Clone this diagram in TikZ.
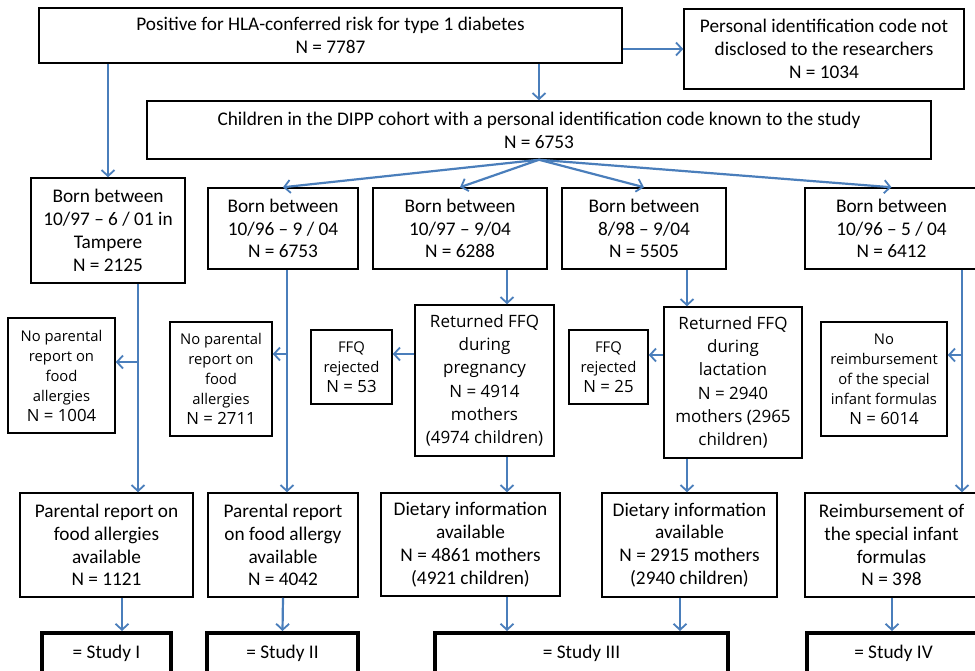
\documentclass[tikz,border=0pt]{standalone}
\usepackage{fontspec}
\setmainfont{Carlito}
\newfontfamily\widefont{Open Sans}
\usetikzlibrary{arrows.meta}
\definecolor{lineblue}{RGB}{74,126,187}
\newcommand\bigline[1]{{\fontsize{16.8}{21}\selectfont #1}}
\begin{document}
\begin{tikzpicture}
   [x=1pt, y=-1pt,
    box/.style={draw, line width=1.5pt, align=center, inner sep=0pt, font=\fontsize{19.3}{22.8}\selectfont},
    widebox/.style={box, font=\widefont\fontsize{17}{23.3}\selectfont},
    smallbox/.style={box, font=\widefont\fontsize{14.8}{20}\selectfont},
    studybox/.style={draw, line width=4pt, align=center, inner sep=0pt, font=\fontsize{19.3}{22}\selectfont},
    arr/.style={draw=lineblue, line width=2.2pt, -{Straight Barb[length=6pt,width=13pt,line width=1.8pt]}},
    arrlite/.style={arr, line width=1.4pt}]
   \fill[white] (0,0) rectangle (975,670);
   \useasboundingbox (0,0) rectangle (975,670);

   % top rows
   \node[box, minimum width=583, minimum height=55] (risk) at (330.5,35.5) {Positive for HLA-conferred risk for type 1 diabetes\\N = 7787};
   \node[box, minimum width=280, minimum height=80] (nocode) at (824,49) {Personal identification code not\\disclosed to the researchers\\N = 1034};
   \node[box, minimum width=784, minimum height=58] (dipp) at (539,130) {Children in the DIPP cohort with a personal identification code known to the study\\N = 6753};

   \node[box, minimum width=154, minimum height=105] (tampere) at (108,230.5) {Born between\\10/97 – 6 / 01 in\\Tampere\\N = 2125};
   \node[box, minimum width=150, minimum height=81] (bornA) at (283,228.5) {Born between\\10/96 – 9 / 04\\N = 6753};
   \node[box, minimum width=174, minimum height=81] (bornB) at (460,228.5) {Born between\\10/97 – 9/04\\N = 6288};
   \node[box, minimum width=164, minimum height=81] (bornC) at (644,228.5) {Born between\\8/98 – 9/04\\N = 5505};
   \node[box, minimum width=173, minimum height=81] (bornD) at (891.5,228.5) {Born between\\10/96 – 5 / 04\\N = 6412};

   % middle row
   \node[smallbox, minimum width=107, minimum height=115] (nop1) at (61.5,375.5) {No parental\\report on\\food\\allergies\\\bigline{N = 1004}};
   \node[smallbox, minimum width=102, minimum height=114] (nop2) at (221,379) {No parental\\report on\\food\\allergies\\\bigline{N = 2711}};
   \node[smallbox, minimum width=81, minimum height=74] (rej1) at (351.5,367) {FFQ\\rejected\\\bigline{N = 53}};
   \node[widebox, minimum width=139, minimum height=151] (preg) at (484.5,380.5) {Returned FFQ\\during\\pregnancy\\N = 4914\\mothers\\(4974 children)};
   \node[smallbox, minimum width=79, minimum height=74] (rej2) at (608.5,367) {FFQ\\rejected\\\bigline{N = 25}};
   \node[widebox, minimum width=138, minimum height=151] (lact) at (733,382.5) {Returned FFQ\\during\\lactation\\N = 2940\\mothers (2965\\children)};
   \node[smallbox, minimum width=126, minimum height=114] (noreim) at (884,379) {No\\reimbursement\\of the special\\infant formulas\\\bigline{N = 6014}};

   % bottom rows
   \node[box, minimum width=173, minimum height=104] (par1) at (106.5,545) {Parental report on\\food allergies\\available\\N = 1121};
   \node[box, minimum width=150, minimum height=104] (par2) at (283,545) {Parental report\\on food allergy\\available\\N = 4042};
   \node[box, minimum width=179, minimum height=103] (diet1) at (470.5,544.5) {Dietary information\\available\\N = 4861 mothers\\(4921 children)};
   \node[box, minimum width=175, minimum height=104] (diet2) at (689.5,545) {Dietary information\\available\\N = 2915 mothers\\(2940 children)};
   \node[box, minimum width=173, minimum height=104] (reim) at (891.5,545) {Reimbursement of\\the special infant\\formulas\\N = 398};

   \node[studybox, minimum width=129, minimum height=40] (st1) at (106.5,653) {= Study I};
   \node[studybox, minimum width=151, minimum height=40] (st2) at (282.5,653) {= Study II};
   \node[studybox, minimum width=293, minimum height=40] (st3) at (581.5,653) {= Study III};
   \node[studybox, minimum width=173, minimum height=40] (st4) at (893.5,653) {= Study IV};

   % trunk and branch points
   \coordinate (tr1) at (138,362);
   \coordinate (tr2) at (287,354);
   \coordinate (tr3) at (507,354);
   \coordinate (tr4) at (687,355);
   \coordinate (tr5) at (962,355);
   \coordinate (s1) at (122,0);
   \coordinate (s3) at (507,0);
   \coordinate (s4) at (680,0);
   \coordinate (s5) at (892,0);

   % connectors
   \draw[arr] (risk.east |- nocode.west) -- (nocode.west);
   \draw[arrlite] (risk.south -| dipp.north) -- (dipp.north);
   \draw[arr] (risk.south -| tampere.north) -- (tampere.north);
   \foreach \b in {bornA,bornB,bornC,bornD}
      \draw[arr] (dipp.south) -- (\b.north);

   \draw[arr] (tampere.south -| tr1) -- (par1.north -| tr1);
   \draw[arr] (tr1) -- (tr1 -| nop1.east);
   \draw[arr] (bornA.south -| tr2) -- (par2.north -| tr2);
   \draw[arr] (tr2) -- (tr2 -| nop2.east);
   \draw[arrlite] (bornB.south -| tr3) -- (preg.north -| tr3);
   \draw[arr] (tr3 -| preg.west) -- (tr3 -| rej1.east);
   \draw[arrlite] (preg.south -| tr3) -- (diet1.north -| tr3);
   \draw[arr] (bornC.south -| tr4) -- (lact.north -| tr4);
   \draw[arr] (tr4 -| lact.west) -- (tr4 -| rej2.east);
   \draw[arr] (lact.south -| tr4) -- (diet2.north -| tr4);
   \draw[arr] (bornD.south -| tr5) -- (reim.north -| tr5);
   \draw[arr] (tr5) -- (tr5 -| noreim.east);

   \draw[arr] (par1.south -| s1) -- (st1.north -| s1);
   \draw[arr] (par2.south) -- (st2.north);
   \draw[arrlite] (diet1.south -| s3) -- (st3.north -| s3);
   \draw[arr] (diet2.south -| s4) -- (st3.north -| s4);
   \draw[arr] (reim.south -| s5) -- (st4.north -| s5);
\end{tikzpicture}
\end{document}
